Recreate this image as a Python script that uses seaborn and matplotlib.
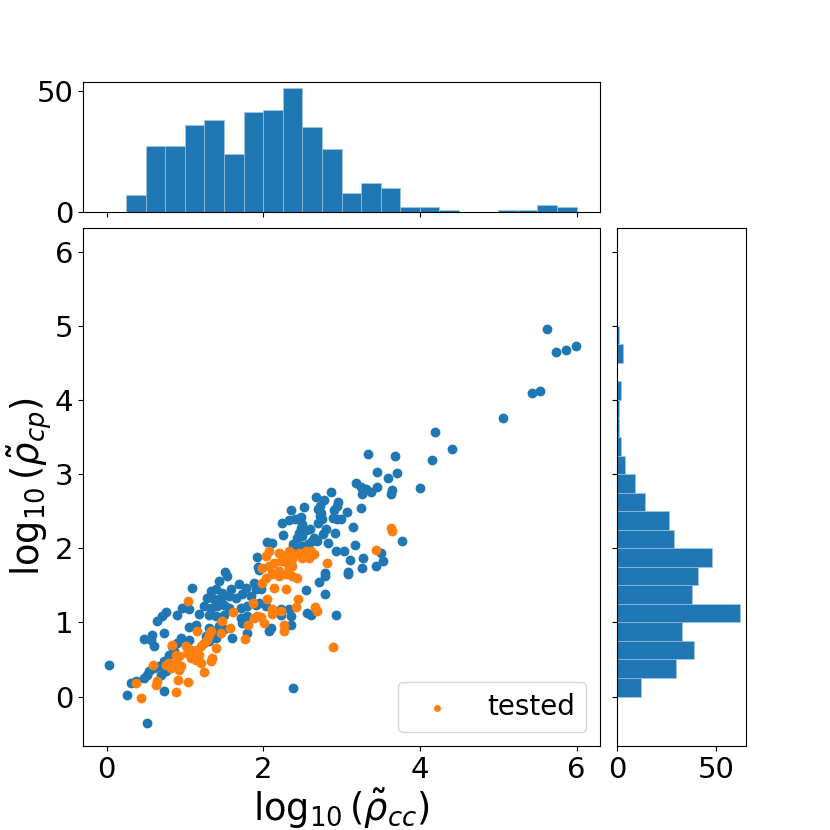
import numpy as np
import pandas as pd
import matplotlib
matplotlib.use("Agg")
import matplotlib.pyplot as plt
import seaborn as sns

BLUE = "#1f77b4"
ORANGE = "#ff7f0e"

# ---- scatter data: all samples (log10 rho_cc, log10 rho_cp) ----
all_x = [
    3.344, 3.680, 3.455, 3.706, 3.595, 3.650, 3.638, 3.182, 3.246, 3.310, 3.450, 3.378, 3.259, 3.255,
    2.863, 2.676, 2.782, 2.961, 2.940, 2.522, 2.361, 2.727, 2.705, 2.744, 2.723, 2.757, 2.701, 3.076,
    2.906, 2.893, 2.948, 2.999, 2.484, 2.407, 2.331, 2.237, 2.501, 2.480, 2.544, 2.599, 2.459, 2.501,
    2.437, 2.258, 2.650, 2.629, 2.693, 2.769, 2.799, 2.918, 3.152, 2.825, 2.569, 2.501, 2.437, 2.373,
    2.586, 2.050, 2.118, 2.386, 3.170, 2.935, 3.037, 3.110, 3.280, 3.267, 3.446, 3.502, 3.531, 3.770,
    3.088, 2.791,
    3.996, 4.160, 4.190, 4.415, 5.063, 5.434, 5.533, 5.624, 5.737, 5.862, 5.996,
    1.096, 1.437, 1.543, 1.330, 1.394, 1.479, 1.586, 1.692, 1.777, 1.884, 1.905, 1.288, 1.373, 1.458,
    1.565, 1.650, 1.735, 1.841, 1.245, 1.330, 1.416, 1.501, 1.565, 1.714, 1.799, 1.905, 1.309, 1.394,
    1.501, 1.714, 1.799, 1.181, 1.054, 0.969, 0.905, 0.756, 0.713, 0.649, 1.054, 1.139, 1.309, 1.437,
    1.394, 1.501, 1.266, 1.330, 1.735, 1.799, 1.607, 0.734, 0.585, 0.564, 0.479, 0.607, 0.841, 0.905,
    0.947, 1.054, 0.862, 0.798, 1.309, 1.394, 0.734, 0.671, 0.607, 0.543, 0.522, 0.479, 0.373, 0.309,
    0.692, 0.756, 0.266, 0.734, 0.522, 0.032,
    2.791, 3.085, 2.714, 2.553, 2.791, 2.927, 2.565, 2.608, 1.969, 1.948, 2.033, 2.225, 2.331, 2.352,
    2.225, 2.352, 2.097, 2.076, 2.378,
    1.513, 1.920, 1.930, 1.950,
]
all_y = [
    3.275, 3.248, 3.027, 3.019, 2.942, 2.784, 2.735, 2.874, 2.830, 2.803, 2.830, 2.757, 2.726, 2.537,
    2.753, 2.690, 2.654, 2.627, 2.568, 2.560, 2.520, 2.568, 2.524, 2.479, 2.433, 2.389, 2.344, 2.483,
    2.510, 2.411, 2.389, 2.398, 2.425, 2.389, 2.375, 2.344, 2.321, 2.267, 2.240, 2.254, 2.209, 2.163,
    2.142, 2.173, 2.142, 2.096, 2.096, 2.186, 2.254, 2.200, 2.285, 2.074, 2.051, 2.028, 2.006, 1.984,
    1.984, 2.083, 2.074, 2.061, 2.047, 1.957, 1.966, 1.835, 1.862, 1.731, 1.758, 1.930, 1.826, 2.096,
    1.677, 1.660,
    2.816, 3.193, 3.570, 3.341, 3.762, 4.099, 4.126, 4.955, 4.646, 4.677, 4.731,
    1.457, 1.556, 1.624, 1.421, 1.444, 1.399, 1.444, 1.511, 1.466, 1.534, 1.444, 1.331, 1.309, 1.331,
    1.354, 1.331, 1.376, 1.354, 1.219, 1.196, 1.219, 1.241, 1.196, 1.196, 1.219, 1.241, 1.106, 1.084,
    1.106, 1.061, 1.084, 1.115, 1.174, 1.196, 1.093, 1.142, 1.084, 1.016, 0.935, 0.962, 0.926, 0.949,
    0.881, 0.904, 0.814, 0.836, 0.994, 0.859, 0.791, 0.859, 0.836, 0.769, 0.782, 0.679, 0.679, 0.724,
    0.791, 0.769, 0.611, 0.566, 0.746, 0.791, 0.476, 0.409, 0.386, 0.341, 0.297, 0.252, 0.206, 0.184,
    0.297, 0.341, 0.027, 0.081, -0.356, 0.431,
    1.624, 1.646, 1.547, 1.430, 1.385, 1.093, 1.129, 1.106, 1.444, 1.264, 1.219, 1.174, 1.174, 1.084,
    1.106, 0.958, 0.926, 0.881, 0.112,
    1.683, 1.880, 1.750, 1.700,
]

# ---- tested subset ----
tested_x = [
    3.629, 3.642, 3.446, 2.812,
    2.075, 2.033, 2.203, 2.267, 2.331, 2.395, 2.459, 2.544, 2.608, 2.650, 2.586, 2.501, 2.373, 2.309,
    2.224, 2.139, 2.075, 1.990, 2.331, 2.203, 2.118, 2.373,
    2.033, 2.118, 2.203, 2.289, 2.374, 2.438, 1.991, 2.140, 2.289, 2.054, 2.450, 2.416, 2.663, 2.693,
    2.118, 2.118, 2.225, 1.969, 2.012, 2.267, 2.267, 2.893,
    1.037, 1.152, 0.841, 1.011, 1.075, 1.032, 1.096, 1.160, 1.203, 1.245, 1.288, 1.309, 1.181, 1.139,
    1.203, 1.075, 0.883, 0.926, 0.798, 0.756, 0.841, 0.820, 0.883, 0.947, 0.926, 1.330, 1.458, 1.394,
    1.352, 1.330, 1.245, 1.479, 1.573, 1.616, 1.769, 1.811, 1.871, 1.884, 1.926, 0.598, 0.381, 0.649,
    0.628, 0.917, 1.041, 0.883, 0.436,
]
tested_y = [
    2.277, 2.231, 1.980, 1.799,
    1.961, 1.894, 1.939, 1.894, 1.961, 1.916, 1.939, 1.961, 1.961, 1.916, 1.871, 1.871, 1.849, 1.804,
    1.826, 1.804, 1.759, 1.737, 1.714, 1.691, 1.669, 1.759,
    1.601, 1.646, 1.624, 1.646, 1.624, 1.601, 1.534, 1.466, 1.444, 1.309, 1.318, 1.210, 1.205, 1.160,
    1.174, 1.115, 1.151, 1.070, 0.994, 0.971, 0.881, 0.674,
    1.286, 0.881, 0.701, 0.679, 0.634, 0.589, 0.566, 0.634, 0.679, 0.724, 0.769, 0.836, 0.566, 0.499,
    0.454, 0.521, 0.566, 0.544, 0.454, 0.431, 0.431, 0.386, 0.454, 0.409, 0.364, 0.881, 0.859, 0.656,
    0.521, 0.476, 0.332, 1.025, 0.926, 1.138, 0.778, 0.962, 1.264, 1.061, 1.084, 0.431, 0.184, 0.206,
    0.161, 0.224, 0.193, 0.058, -0.018,
]

# ---- marginal histogram counts (bin width 0.25) ----
x_hist_start = 0.25
x_hist_counts = [7, 27, 27, 36, 38, 24, 41, 42, 51, 35, 26, 8, 12, 10, 2, 2, 1, 0, 0, 1, 1, 3, 2]
y_hist_start = 0.0
y_hist_counts = [12, 30, 39, 33, 62, 38, 41, 48, 29, 26, 14, 9, 4, 2, 1, 1, 2, 0, 3, 1]
bin_w = 0.25

df_all = pd.DataFrame({"x": all_x, "y": all_y})
df_tested = pd.DataFrame({"x": tested_x, "y": tested_y})

x_end = x_hist_start + bin_w * len(x_hist_counts)
y_end = y_hist_start + bin_w * len(y_hist_counts)
df_xh = pd.DataFrame({"c": x_hist_start + bin_w * (np.arange(len(x_hist_counts)) + 0.5),
                      "w": np.array(x_hist_counts, dtype=float)})
df_yh = pd.DataFrame({"c": y_hist_start + bin_w * (np.arange(len(y_hist_counts)) + 0.5),
                      "w": np.array(y_hist_counts, dtype=float)})

TICK_FS = 21
LABEL_FS = 26.5
LEG_FS = 20

fig = plt.figure(figsize=(8.3, 8.3), dpi=100)
ax = fig.add_axes([0.1, 0.1012, 0.6229, 0.6241])
ax_top = fig.add_axes([0.1, 0.7446, 0.6229, 0.1566], sharex=ax)
ax_right = fig.add_axes([0.7434, 0.1012, 0.1554, 0.6241], sharey=ax)

sns.scatterplot(data=df_all, x="x", y="y", ax=ax, color=BLUE, s=50, linewidth=0, legend=False)
sns.scatterplot(data=df_tested, x="x", y="y", ax=ax, color=ORANGE, s=50, linewidth=0, label="tested")

sns.histplot(data=df_xh, x="c", weights="w", binwidth=bin_w, binrange=(x_hist_start, x_end),
             ax=ax_top, color=BLUE, alpha=1, edgecolor="#aac8e0", linewidth=0.4)
sns.histplot(data=df_yh, y="c", weights="w", binwidth=bin_w, binrange=(y_hist_start, y_end),
             ax=ax_right, color=BLUE, alpha=1, edgecolor="#aac8e0", linewidth=0.4)

ax.set_xlim(-0.3, 6.3)
ax.set_ylim(-0.667, 6.318)
ax.set_xticks([0, 2, 4, 6])
ax.set_yticks([0, 1, 2, 3, 4, 5, 6])
ax.tick_params(labelsize=TICK_FS)
ax.set_xlabel(r"$\log_{10}(\tilde{\rho}_{cc})$", fontsize=LABEL_FS, labelpad=2)
ax.set_ylabel(r"$\log_{10}(\tilde{\rho}_{cp})$", fontsize=LABEL_FS, labelpad=0)

ax_top.set_ylim(0, 53.55)
ax_top.set_yticks([0, 50])
ax_top.set_xlabel("")
ax_top.set_ylabel("")
ax_top.tick_params(labelsize=TICK_FS)
plt.setp(ax_top.get_xticklabels(), visible=False)

ax_right.set_xlim(0, 65.1)
ax_right.set_xticks([0, 50])
ax_right.set_xlabel("")
ax_right.set_ylabel("")
ax_right.tick_params(labelsize=TICK_FS)
plt.setp(ax_right.get_yticklabels(), visible=False)

ax.legend(loc="lower right", fontsize=LEG_FS, markerscale=0.7)

fig.savefig("out.png", dpi=100)
